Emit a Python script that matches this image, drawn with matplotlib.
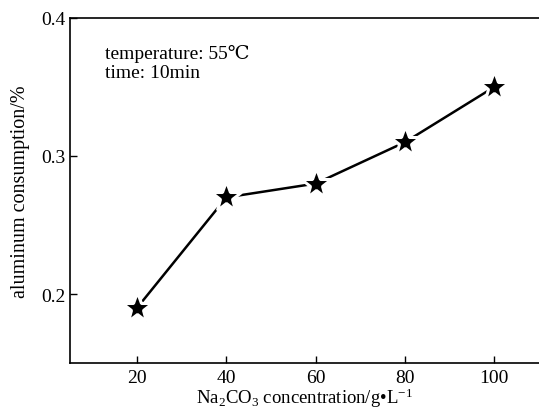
import matplotlib
matplotlib.use('Agg')
import matplotlib.pyplot as plt

plt.rcParams['font.family'] = ['Liberation Serif', 'DejaVu Serif']
plt.rcParams['mathtext.fontset'] = 'custom'
plt.rcParams['mathtext.rm'] = 'Liberation Serif'
plt.rcParams['mathtext.it'] = 'Liberation Serif:italic'

concentration = [20, 40, 60, 80, 100]
consumption = [0.19, 0.27, 0.28, 0.31, 0.35]
x_ticks = [20, 40, 60, 80, 100]
y_ticks = [0.2, 0.3, 0.4]

fig = plt.figure(figsize=(5.39, 4.1), dpi=100)
ax = fig.add_axes([0.13, 0.112, 0.87, 0.842])

ax.plot(concentration, consumption, color='black', linewidth=1.8,
        marker='*', markersize=23, markerfacecolor='black',
        markeredgecolor='white', markeredgewidth=2.2)

ax.set_xlim(5, 110)
ax.set_ylim(0.15, 0.4)
ax.set_xticks(x_ticks)
ax.set_yticks(y_ticks)
ax.set_yticklabels(['0.2', '0.3', '0.4'])
ax.tick_params(direction='in', length=5, labelsize=14, width=1)
ax.tick_params(axis='x', pad=4)
ax.spines['right'].set_visible(False)
for s in ['left', 'bottom', 'top']:
    ax.spines[s].set_linewidth(1.2)

ax.set_xlabel('Na$_2$CO$_3$ concentration/g\u2022L$^{-1}$', fontsize=13.5, labelpad=0)
ax.set_ylabel('aluminum consumption/%', fontsize=14.5, labelpad=8)

ax.text(0.075, 0.925, 'temperature: 55\u2103\ntime: 10min', transform=ax.transAxes,
        fontsize=14, va='top', ha='left', linespacing=1.15)

fig.savefig('out.png', dpi=100)
